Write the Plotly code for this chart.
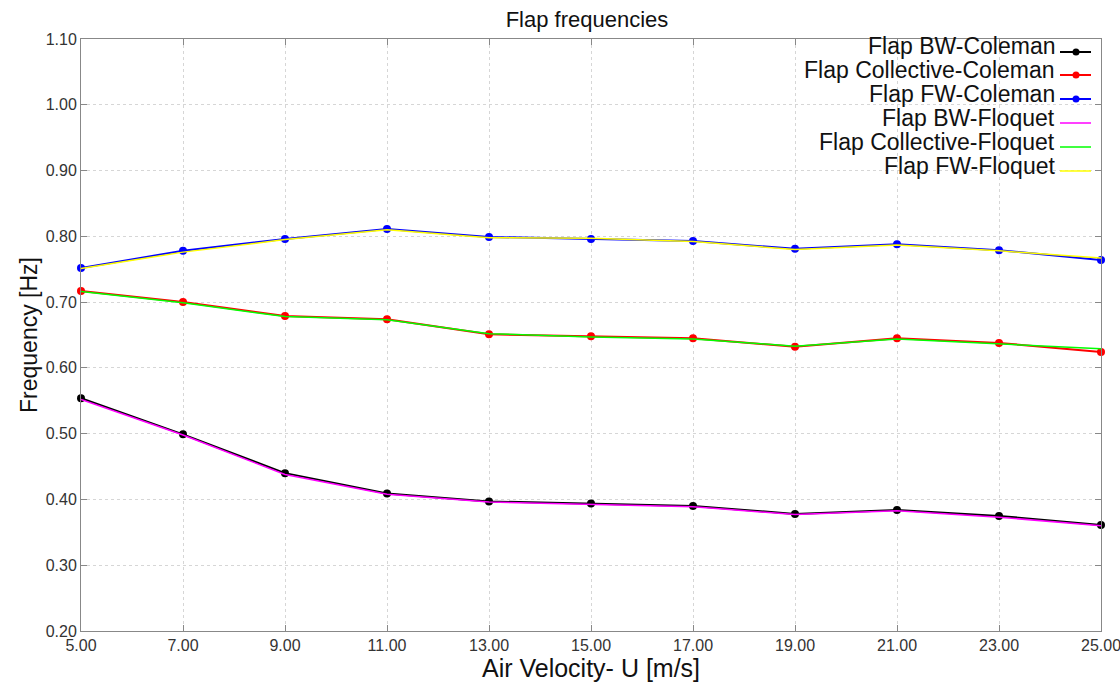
import plotly.graph_objects as go

velocity = [5, 7, 9, 11, 13, 15, 17, 19, 21, 23, 25]

bw_coleman = [0.554, 0.499, 0.440, 0.409, 0.397, 0.394, 0.390, 0.378, 0.384, 0.375, 0.361]
coll_coleman = [0.717, 0.700, 0.679, 0.674, 0.651, 0.648, 0.645, 0.632, 0.645, 0.638, 0.624]
fw_coleman = [0.752, 0.778, 0.796, 0.811, 0.799, 0.796, 0.793, 0.781, 0.788, 0.779, 0.764]

bw_floquet = [0.552, 0.498, 0.438, 0.408, 0.396, 0.393, 0.389, 0.377, 0.383, 0.373, 0.360]
coll_floquet = [0.716, 0.699, 0.678, 0.673, 0.652, 0.647, 0.644, 0.633, 0.644, 0.636, 0.629]
fw_floquet = [0.751, 0.776, 0.795, 0.810, 0.798, 0.797, 0.792, 0.780, 0.787, 0.778, 0.767]

x_ticks = [5, 7, 9, 11, 13, 15, 17, 19, 21, 23, 25]
y_ticks = [0.2, 0.3, 0.4, 0.5, 0.6, 0.7, 0.8, 0.9, 1.0, 1.1]

series = [
    ("Flap BW-Coleman", bw_coleman, "#000000", True),
    ("Flap Collective-Coleman", coll_coleman, "#ff0000", True),
    ("Flap FW-Coleman", fw_coleman, "#0000ff", True),
    ("Flap BW-Floquet", bw_floquet, "#ff00ff", False),
    ("Flap Collective-Floquet", coll_floquet, "#00ff00", False),
    ("Flap FW-Floquet", fw_floquet, "#ffff00", False),
]

FONT = "Liberation Sans, Arial, sans-serif"

fig = go.Figure()
for name, vals, color, markers in series:
    if markers:
        fig.add_trace(go.Scatter(
            x=velocity, y=vals, name=name, mode="lines+markers",
            line=dict(color=color, width=2),
            marker=dict(color=color, size=8),
            cliponaxis=False, showlegend=False))
    else:
        fig.add_trace(go.Scatter(
            x=velocity, y=vals, name=name, mode="lines",
            line=dict(color=color, width=1.5),
            cliponaxis=False, showlegend=False))

# Legend (text right-aligned, sample to the right), in paper coordinates
L, R, T, B = 81, 19, 39, 53
W, H = 1120, 684
pw, ph = W - L - R, H - T - B

def px(x):
    return (x - L) / pw

def py(y):
    return (H - B - y) / ph

text_y = [46, 70, 94, 118, 142, 166]
line_y = [52, 75, 99, 123, 147, 171]
annotations = []
shapes = []
for i, (name, vals, color, markers) in enumerate(series):
    annotations.append(dict(
        text=name, xref="paper", yref="paper", x=px(1057), y=py(text_y[i]),
        xanchor="right", yanchor="middle", showarrow=False,
        font=dict(family=FONT, size=23, color="#111111")))
    shapes.append(dict(
        type="line", xref="paper", yref="paper",
        x0=px(1060), x1=px(1091), y0=py(line_y[i]), y1=py(line_y[i]),
        line=dict(color=color, width=2 if markers else 1.5)))
    if markers:
        cx, cy = 1076, line_y[i]
        shapes.append(dict(
            type="circle", xref="paper", yref="paper",
            x0=px(cx - 3.5), x1=px(cx + 3.5), y0=py(cy + 3.5), y1=py(cy - 3.5),
            fillcolor=color, line=dict(color=color, width=0)))

axis_common = dict(
    showline=True, linecolor="#888888", linewidth=1, mirror="ticks",
    ticks="inside", ticklen=6, tickcolor="#888888",
    showgrid=True, gridcolor="#d6d6d6", griddash="dot", gridwidth=1,
    zeroline=False, tickformat=".2f", automargin=False,
    tickfont=dict(family=FONT, size=16, color="#333333"),
)

fig.update_layout(
    width=W, height=H,
    margin=dict(l=L, r=R, t=T, b=B, autoexpand=False),
    paper_bgcolor="white", plot_bgcolor="white",
    title=dict(text="Flap frequencies", x=587 / W, xanchor="center",
               y=1 - 19 / H, yanchor="middle", yref="container",
               font=dict(family=FONT, size=22, color="#111111")),
    xaxis=dict(range=[5, 25], tickvals=x_ticks, ticklabeloverflow="allow", **axis_common,
               title=dict(text="Air Velocity- U [m/s]", standoff=3,
                          font=dict(family=FONT, size=25, color="#111111"))),
    yaxis=dict(range=[0.2, 1.1], tickvals=y_ticks, **axis_common,
               title=dict(text="Frequency [Hz]", standoff=1,
                          font=dict(family=FONT, size=23, color="#111111"))),
    annotations=annotations,
    shapes=shapes,
    showlegend=False,
)

fig.write_html("out.html")
